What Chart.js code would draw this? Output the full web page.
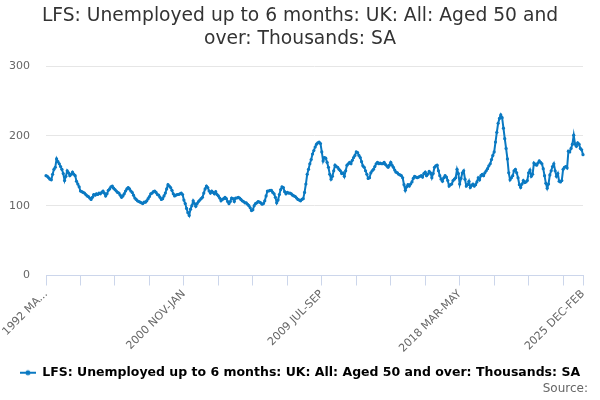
<!DOCTYPE html>
<html>
<head>
<meta charset="utf-8">
<title>LFS: Unemployed up to 6 months: UK: All: Aged 50 and over</title>
<script src="https://cdn.jsdelivr.net/npm/chart.js@4.4.1/dist/chart.umd.min.js"></script>
<style>
  html, body { margin: 0; padding: 0; background: #fff; }
  #wrap { width: 600px; height: 400px; }
</style>
</head>
<body>
<div id="wrap"><canvas id="myChart" width="600" height="400"></canvas></div>
<script>
'use strict';

// periods run monthly (rolling 3 months) from 1992 MAR-MAY
const monthNames = ['JAN','FEB','MAR','APR','MAY','JUN','JUL','AUG','SEP','OCT','NOV','DEC'];
const firstYear = 1992;
const firstMonth = 2;

// thousands
const values = [
  143, 142, 140, 138, 137, 145, 152, 155, 167, 163,
  160, 156, 152, 146, 136, 142, 150, 147, 143, 145,
  148, 145, 143, 135, 131, 127, 121, 120, 119, 118,
  116, 114, 113, 111, 109, 112, 116, 115, 117, 116,
  118, 117, 119, 121, 118, 114, 117, 122, 124, 127,
  128, 125, 123, 121, 119, 118, 115, 112, 114, 117,
  121, 124, 126, 124, 121, 119, 115, 111, 109, 107,
  106, 105, 104, 103, 105, 105, 107, 110, 113, 117,
  118, 120, 121, 119, 116, 115, 112, 109, 110, 114,
  118, 124, 130, 128, 126, 122, 117, 114, 115, 116,
  116, 117, 118, 116, 108, 103, 96, 90, 86, 95,
  100, 107, 103, 99, 103, 106, 108, 110, 112, 118,
  124, 128, 126, 121, 118, 121, 119, 117, 120, 116,
  114, 111, 107, 109, 110, 112, 110, 106, 103, 106,
  111, 110, 106, 111, 111, 112, 111, 109, 107, 106,
  104, 104, 102, 100, 97, 93, 94, 100, 103, 104,
  106, 105, 104, 102, 103, 107, 114, 121, 121, 122,
  122, 119, 117, 112, 104, 108, 116, 123, 127, 126,
  120, 117, 119, 118, 118, 117, 115, 114, 113, 111,
  109, 108, 107, 109, 110, 119, 131, 145, 152, 160,
  166, 174, 179, 184, 188, 190, 191, 189, 177, 164,
  169, 168, 162, 155, 145, 138, 142, 150, 158, 156,
  155, 152, 150, 146, 147, 142, 150, 158, 160, 162,
  160, 165, 169, 172, 177, 176, 172, 169, 163, 157,
  155, 150, 145, 139, 140, 147, 150, 152, 156, 160,
  162, 160, 161, 160, 160, 162, 159, 157, 155, 158,
  162, 158, 155, 151, 148, 147, 145, 144, 143, 140,
  130, 122, 127, 130, 128, 131, 134, 139, 142, 141,
  140, 141, 142, 143, 141, 146, 148, 143, 145, 149,
  147, 140, 146, 155, 157, 158, 150, 143, 138, 135,
  140, 143, 141, 136, 128, 130, 131, 136, 138, 140,
  152, 146, 131, 139, 147, 150, 138, 128, 130, 135,
  126, 129, 131, 128, 130, 134, 140, 137, 143, 145,
  143, 147, 150, 153, 157, 160, 166, 172, 177, 191,
  205, 218, 225, 230, 226, 211, 196, 182, 167, 147,
  137, 140, 143, 150, 152, 147, 140, 130, 126, 131,
  136, 133, 134, 136, 147, 151, 142, 145, 161, 159,
  158, 161, 164, 162, 160, 153, 143, 132, 125, 131,
  144, 150, 156, 160, 150, 142, 146, 135, 134, 136,
  152, 155, 156, 154, 178, 177, 182, 188, 201, 188,
  185, 190, 188, 182, 180, 173
];

// which categories get a label, and the text shown there
const labelIndex = [0, 104, 208, 312, 405];
const tickLabels = ['1992 MA...', '2000 NOV-JAN', '2009 JUL-SEP', '2018 MAR-MAY', '2025 DEC-FEB'];
const tickEvery = 26;
const yTicks = [0, 100, 200, 300];

const seriesName = 'LFS: Unemployed up to 6 months: UK: All: Aged 50 and over: Thousands: SA';
const titleLines = ['LFS: Unemployed up to 6 months: UK: All: Aged 50 and', 'over: Thousands: SA'];
const sourceText = 'Source:';
const lineColor = '#0a79c2';

let periods = [];
for (let i = 0; i < values.length; i++) {
  let m = firstMonth + i;
  let start = m % 12;
  periods.push((firstYear + Math.floor(m / 12)) + ' ' + monthNames[start] + '-' + monthNames[(start + 2) % 12]);
}

// little line-with-dot symbol for the legend
const legendIcon = document.createElement('canvas');
legendIcon.width = 16;
legendIcon.height = 8;
const ictx = legendIcon.getContext('2d');
ictx.strokeStyle = lineColor;
ictx.lineWidth = 2;
ictx.beginPath();
ictx.moveTo(0, 4);
ictx.lineTo(16, 4);
ictx.stroke();
ictx.fillStyle = lineColor;
ictx.beginPath();
ictx.arc(8, 4, 2.5, 0, Math.PI * 2);
ictx.fill();

const sourcePlugin = {
  id: 'sourceText',
  afterDraw(chart) {
    let c = chart.ctx;
    c.save();
    c.font = '12px "DejaVu Sans"';
    c.fillStyle = '#666666';
    c.textAlign = 'right';
    c.textBaseline = 'middle';
    c.fillText(sourceText, 588, 389);
    c.restore();
  }
};

Chart.defaults.font.family = '"DejaVu Sans", sans-serif';

let ctx = document.getElementById('myChart').getContext('2d');
let myChart = new Chart(ctx, {
  type: 'line',
  data: {
    labels: periods,
    datasets: [{
      label: seriesName,
      data: values,
      borderColor: lineColor,
      backgroundColor: lineColor,
      borderWidth: 2,
      pointRadius: 1.6,
      pointBorderWidth: 0,
      pointBackgroundColor: lineColor,
      tension: 0,
      fill: false
    }]
  },
  options: {
    responsive: false,
    animation: false,
    layout: { padding: { left: 0, right: 0, top: 0, bottom: 11 } },
    plugins: {
      title: {
        display: true,
        text: titleLines,
        color: '#333333',
        font: { size: 18.7, weight: 'normal', lineHeight: 1.23 },
        padding: { top: 5, bottom: 15 }
      },
      legend: {
        position: 'bottom',
        labels: {
          color: '#333333',
          font: { size: 12.5, weight: 'bold' },
          usePointStyle: true,
          pointStyleWidth: 16,
          padding: 10,
          generateLabels: function(chart) {
            return [{
              text: seriesName,
              pointStyle: legendIcon,
              fillStyle: lineColor,
              strokeStyle: lineColor,
              lineWidth: 0,
              datasetIndex: 0,
              hidden: false
            }];
          }
        }
      },
      tooltip: { enabled: false }
    },
    scales: {
      x: {
        type: 'category',
        offset: false,
        grid: {
          drawOnChartArea: false,
          drawTicks: true,
          tickLength: 10,
          lineWidth: 1,
          tickColor: function(c) {
            return (c.index % tickEvery === 0 || c.index === values.length - 1) ? '#ccd6eb' : 'rgba(0,0,0,0)';
          }
        },
        border: { display: true, color: '#ccd6eb', width: 1 },
        ticks: {
          autoSkip: false,
          minRotation: 45,
          maxRotation: 45,
          color: '#666666',
          font: { size: 11 },
          padding: 2,
          callback: function(value, index) {
            let k = labelIndex.indexOf(index);
            return k >= 0 ? tickLabels[k] : '';
          }
        },
        afterFit: function(scale) {
          scale.height = 81;
          scale.paddingLeft = 0;
          scale.paddingRight = 17;
        }
      },
      y: {
        min: yTicks[0],
        max: yTicks[yTicks.length - 1],
        afterBuildTicks: function(scale) {
          scale.ticks = yTicks.map(v => ({ value: v }));
        },
        grid: { color: '#e6e6e6', drawTicks: false },
        border: { display: false },
        ticks: { color: '#666666', font: { size: 11 }, padding: 16 },
        afterFit: function(scale) { scale.width = 46; }
      }
    }
  },
  plugins: [sourcePlugin]
});
</script>
</body>
</html>
